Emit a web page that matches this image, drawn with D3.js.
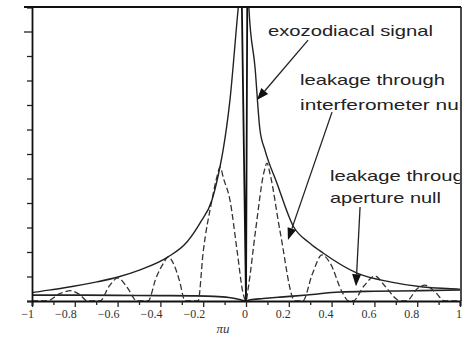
<!DOCTYPE html>
<html><head><meta charset="utf-8">
<script src="https://cdn.jsdelivr.net/npm/d3@7"></script>
<style>body{margin:0;background:#fff}svg{display:block}</style>
</head><body>
<svg id="c" width="469" height="342"></svg>
<script>
// ---- data ----
const xTickValues = [-1,-0.9,-0.8,-0.7,-0.6,-0.5,-0.4,-0.3,-0.2,-0.1,0,0.1,0.2,0.3,0.4,0.5,0.6,0.7,0.8,0.9,1];
const xLabelValues = [-1,-0.8,-0.6,-0.4,-0.2,0,0.2,0.4,0.6,0.8,1];
const xLabels = ["\u22121","\u22120.8","\u22120.6","\u22120.4","\u22120.2","0","0.2","0.4","0.6","0.8","1"];
const yTickValues = [0,1,2,3,4,5,6,7,8,9,10,11,12];
const xAxisTitle = "\u03c0u";

// exozodiacal signal (envelope)
const exoX = [-1,-0.986,-0.855,-0.696,-0.598,-0.495,-0.364,-0.276,-0.215,-0.159,-0.121,-0.107,-0.075,-0.037,0,0.014,0.042,0.065,0.089,0.143,0.221,0.30,0.36,0.519,0.673,0.827,0.986,1];
const exoY = [0.34,0.36,0.53,0.78,0.98,1.27,1.80,2.41,3.18,4.12,5.5,6.16,8.2,11.9,15,11.9,9.55,7.0,6.15,4.85,3.05,2.35,1.96,1.14,0.78,0.57,0.49,0.48];

// leakage through interferometer null
const leakX = [-1,-0.93,-0.87,-0.82,-0.78,-0.74,-0.682,-0.64,-0.598,-0.555,-0.509,-0.458,-0.42,-0.385,-0.364,-0.335,-0.31,-0.285,-0.224,-0.20,-0.159,-0.135,-0.121,-0.105,-0.075,-0.042,-0.014,0,0.01,0.045,0.085,0.098,0.112,0.16,0.229,0.265,0.31,0.355,0.393,0.45,0.48,0.50,0.55,0.603,0.65,0.70,0.72,0.75,0.80,0.836,0.88,0.93,1];
const leakY = [0,0,0.3,0.42,0.28,0,0,0.6,0.94,0.55,0,0,0.95,1.55,1.8,1.45,0.8,0,0,2.0,4.12,5.1,5.47,5.0,4.12,2.08,0.33,0,0.5,2.9,5.3,5.63,5.2,2.8,0,0,1.1,1.88,1.55,0.35,0,0,0.6,1.02,0.6,0.1,0,0,0.5,0.65,0.4,0,0];

// leakage through aperture null
const apX = [-1,-0.8,-0.6,-0.4,-0.25,-0.15,-0.08,-0.03,0,0.02,0.08,0.16,0.285,0.44,0.6,0.8,1];
const apY = [0.24,0.24,0.23,0.22,0.21,0.19,0.14,0.06,0,0.05,0.1,0.16,0.245,0.37,0.4,0.42,0.45];

// central null spike
const spikeX = [-0.02,0,0.006];
const spikeY = [12.5,0,12.5];

// ---- drawing ----
const svg = d3.select("#c");
const x = d3.scaleLinear().domain([-1,1]).range([32,460]);
const y = d3.scaleLinear().domain([0,12]).range([301,7]);

const defs = svg.append("defs");
defs.append("clipPath").attr("id","plot").append("rect")
  .attr("x",32).attr("y",7).attr("width",428).attr("height",294);
defs.append("clipPath").attr("id","txt").append("rect")
  .attr("x",0).attr("y",0).attr("width",460).attr("height",342);

const line = d3.line().x(d=>x(d[0])).y(d=>y(d[1])).curve(d3.curveMonotoneX);
const zip = (a,b)=>a.map((v,i)=>[v,b[i]]);

const plot = svg.append("g").attr("clip-path","url(#plot)");
plot.append("path").datum(zip(apX,apY)).attr("d",line)
  .attr("fill","none").attr("stroke","#222").attr("stroke-width",1.6);
plot.append("path").datum(zip(leakX,leakY)).attr("d",line)
  .attr("fill","none").attr("stroke","#333").attr("stroke-width",1.3)
  .attr("stroke-dasharray","6,3");
plot.append("path").datum(zip(exoX,exoY)).attr("d",line)
  .attr("fill","none").attr("stroke","#222").attr("stroke-width",1.4);
plot.append("path").datum(zip(spikeX,spikeY)).attr("d",d3.line().x(d=>x(d[0])).y(d=>y(d[1])))
  .attr("fill","none").attr("stroke","#111").attr("stroke-width",1.8);

// axes
const xa = svg.append("g").attr("transform","translate(0,"+y(0)+")")
  .call(d3.axisBottom(x).tickValues(xTickValues).tickSize(5).tickFormat(""));
xa.select(".domain").attr("stroke","#111").attr("stroke-width",2);
xa.selectAll(".tick line").attr("stroke","#222").attr("stroke-width",1.3)
  .attr("y2",(d)=> (Math.abs(Math.round(d*10))%2===0)?6:4);

const ya = svg.append("g").attr("transform","translate("+x(-1)+",0)")
  .call(d3.axisLeft(y).tickValues(yTickValues).tickSize(5).tickFormat(""));
ya.select(".domain").attr("stroke","#111").attr("stroke-width",1.8);
ya.selectAll(".tick line").attr("stroke","#222").attr("stroke-width",1.3)
  .attr("x2",d=> d===11 ? -8 : -5);

// frame top and right
svg.append("line").attr("x1",24).attr("x2",461).attr("y1",y(12)).attr("y2",y(12))
  .attr("stroke","#111").attr("stroke-width",1.8);
svg.append("line").attr("x1",461).attr("x2",461).attr("y1",y(12)).attr("y2",y(0))
  .attr("stroke","#111").attr("stroke-width",1.5);

// tick labels
svg.append("g").selectAll("text").data(xLabelValues).join("text")
  .attr("x",d=>x(d)+2).attr("y",318).attr("text-anchor","end")
  .attr("font-family","Liberation Serif, serif").attr("font-size",12).attr("fill","#333")
  .text((d,i)=>xLabels[i]);
svg.append("text").attr("x",223).attr("y",333).attr("text-anchor","middle")
  .attr("font-family","Liberation Serif, serif").attr("font-style","italic")
  .attr("font-size",13).attr("fill","#333").text(xAxisTitle);

// annotations
const ann = svg.append("g").attr("clip-path","url(#txt)")
  .attr("font-family","Liberation Sans, Arial, sans-serif").attr("font-size",15).attr("fill","#222");
const notes = [
  {t:"exozodiacal signal", px:268, py:36, w:165},
  {t:"leakage through", px:300, py:85, w:145},
  {t:"interferometer null", px:300, py:110, w:168},
  {t:"leakage through", px:330, py:181, w:145},
  {t:"aperture null", px:330, py:203, w:111}
];
notes.forEach(n=>{
  ann.append("text").attr("x",n.px).attr("y",n.py)
    .attr("textLength",n.w).attr("lengthAdjust","spacingAndGlyphs").text(n.t);
});

// arrows (data coordinates)
const arrows = [
  {x1:0.29, y1:10.65, x2:0.051, y2:8.2},
  {x1:0.402, y1:7.71, x2:0.196, y2:2.49},
  {x1:0.533, y1:3.84, x2:0.514, y2:0.6}
];
arrows.forEach(a=>{
  const X1=x(a.x1),Y1=y(a.y1),X2=x(a.x2),Y2=y(a.y2);
  const dx=X2-X1, dy=Y2-Y1, L=Math.hypot(dx,dy), ux=dx/L, uy=dy/L;
  const hl=12, hw=4.5;
  const bx=X2-ux*hl, by=Y2-uy*hl;
  svg.append("line").attr("x1",X1).attr("y1",Y1).attr("x2",bx).attr("y2",by)
    .attr("stroke","#222").attr("stroke-width",1.3);
  svg.append("polygon")
    .attr("points",[[X2,Y2],[bx-uy*hw,by+ux*hw],[bx+uy*hw,by-ux*hw]].map(p=>p.join(",")).join(" "))
    .attr("fill","#111");
});
</script>
</body></html>
